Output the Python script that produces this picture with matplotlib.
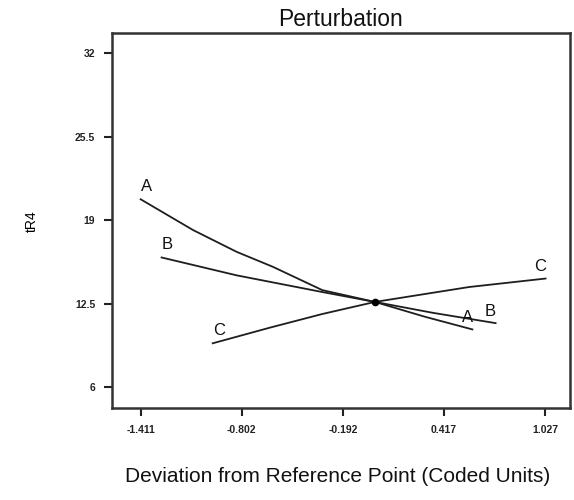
import matplotlib.pyplot as plt
import numpy as np

plt.rcParams['font.family'] = ['Liberation Sans', 'DejaVu Sans']

# tick values on both axes
x_ticks = [-1.411, -0.802, -0.192, 0.417, 1.027]
y_ticks = [6, 12.5, 19, 25.5, 32]
x_tick_labels = ["-1.411", "-0.802", "-0.192", "0.417", "1.027"]
y_tick_labels = ["6", "12.5", "19", "25.5", "32"]

# perturbation curves (coded deviation, tR4)
a_x = [-1.411, -1.096, -0.833, -0.614, -0.317, 0.0, 0.3, 0.587]
a_y = [20.64, 18.25, 16.55, 15.38, 13.57, 12.65, 11.5, 10.51]
b_x = [-1.285, -0.833, -0.317, 0.0, 0.35, 0.727]
b_y = [16.11, 14.72, 13.42, 12.65, 11.8, 11.0]
c_x = [-0.977, -0.632, -0.317, 0.0, 0.567, 1.028]
c_y = [9.43, 10.65, 11.71, 12.65, 13.81, 14.47]
ref_x = [0.0]
ref_y = [12.65]

fig = plt.figure(figsize=(5.74, 5.0), dpi=100)
ax = fig.add_axes([0.195, 0.1834, 0.798, 0.75])

line_col = '#1e1e1e'
curves = [("A", a_x, a_y), ("B", b_x, b_y), ("C", c_x, c_y)]
for name, xs, ys in curves:
    ax.plot(xs, ys, color=line_col, lw=1.3)
    ax.annotate(name, (xs[0], ys[0]), xytext=(6, 13), textcoords='offset pixels',
                ha='center', va='center', fontsize=12, color='#111111')
    ax.annotate(name, (xs[-1], ys[-1]), xytext=(-5, 12), textcoords='offset pixels',
                ha='center', va='center', fontsize=12, color='#111111')

ax.plot(ref_x, ref_y, 'o', color='black', ms=4.5)

ax.set_xlim(-1.584, 1.175)
ax.set_ylim(4.37, 33.56)
ax.set_xticks(x_ticks)
ax.set_xticklabels(x_tick_labels)
ax.set_yticks(y_ticks)
ax.set_yticklabels(y_tick_labels)
ax.tick_params(direction='out', length=6, width=1.5, labelsize=7.5, pad=6, colors='#222222')
for lab in ax.get_xticklabels() + ax.get_yticklabels():
    lab.set_fontweight('bold')
for sp in ax.spines.values():
    sp.set_linewidth(1.8)
    sp.set_color('#333333')

ax.set_title("Perturbation", fontsize=16.5, pad=5, color='#111111')
ax.set_ylabel("tR4", fontsize=10, labelpad=26)
fig.text(0.588, 0.046, "Deviation from Reference Point (Coded Units)",
         ha='center', va='center', fontsize=15, color='#111111')

fig.savefig("out.png", dpi=100)
